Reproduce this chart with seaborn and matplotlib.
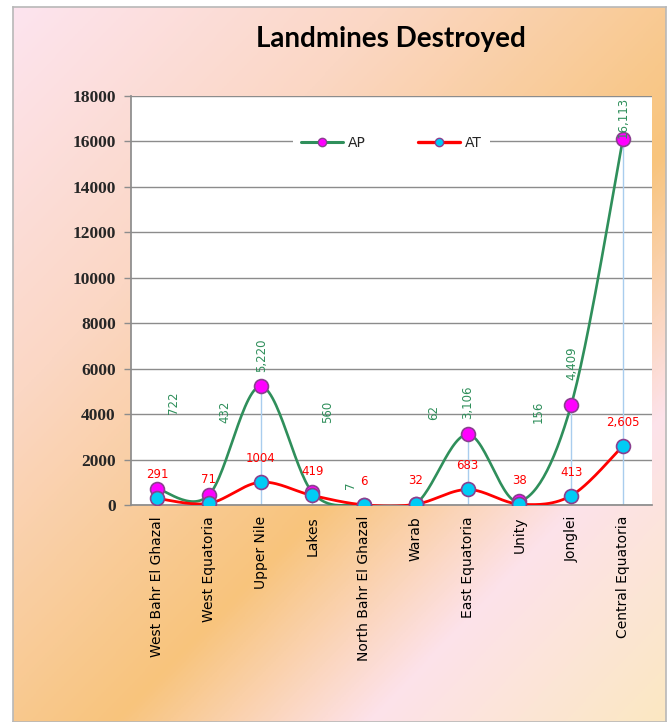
import numpy as np
import pandas as pd
import matplotlib
matplotlib.use("Agg")
import matplotlib.pyplot as plt
from matplotlib.colors import LinearSegmentedColormap
from matplotlib.lines import Line2D
import seaborn as sns

# ---------------- data ----------------
states = ["West Bahr El Ghazal", "West Equatoria", "Upper Nile", "Lakes",
          "North Bahr El Ghazal", "Warab", "East Equatoria", "Unity",
          "Jonglei", "Central Equatoria"]
ap_values = [722, 432, 5220, 560, 7, 62, 3106, 156, 4409, 16113]
at_values = [291, 71, 1004, 419, 6, 32, 683, 38, 413, 2605]
ap_labels = ["722", "432", "5,220", "560", "7", "62", "3,106", "156", "4,409", "16,113"]
at_labels = ["291", "71", "1004", "419", "6", "32", "683", "38", "413", "2,605"]
y_ticks = [0, 2000, 4000, 6000, 8000, 10000, 12000, 14000, 16000, 18000]

# label placement (category offset, y in data units) for the rotated AP labels
ap_label_pos = [(0.31, 4490), (1.31, 4090), (2.02, 6600), (3.29, 4090), (3.74, 880),
                (5.35, 4090), (6.0, 4530), (7.37, 4090), (8.02, 6250), (9.0, 17050)]

sns.set_theme(style="white")
plt.rcParams["font.family"] = ["DejaVu Sans"]

W, H = 668, 722
fig = plt.figure(figsize=(W / 100, H / 100), dpi=100)
fig.patch.set_facecolor("white")

# gradient background panel
x0p, x1p, y0p = 13, 666, 6.5
bg = fig.add_axes([x0p / W, 0, (x1p - x0p) / W, 1 - y0p / H], zorder=0)
nx, ny = 400, 430
gx, gy = np.meshgrid(np.linspace(0, x1p - x0p, nx), np.linspace(0, H - y0p, ny))
t = (0.72 * gx + 0.69 * gy)
t = t / t.max()
cmap = LinearSegmentedColormap.from_list(
    "bg", [(0.0, "#fde4ef"), (0.28, "#fbd7c4"), (0.59, "#f8c47c"),
           (0.78, "#fde2ea"), (1.0, "#fbe8c2")])
bg.imshow(cmap(t), aspect="auto", extent=[0, 1, 0, 1], origin="upper")
bg.set_xticks([]); bg.set_yticks([])
for s in bg.spines.values():
    s.set_color("#b8b8b8"); s.set_linewidth(1.2)

# main plot
ax = fig.add_axes([131 / W, 1 - 505 / H, (652 - 131) / W, (505 - 96) / H], zorder=1)
ax.set_facecolor("white")

x = np.arange(len(states))

def smooth(xv, yv, n=30):
    xv = np.asarray(xv, float); yv = np.asarray(yv, float)
    P = np.column_stack([xv, yv])
    out = []
    for i in range(len(P) - 1):
        p0 = P[i - 1] if i > 0 else P[i]
        p1, p2 = P[i], P[i + 1]
        p3 = P[i + 2] if i + 2 < len(P) else P[i + 1]
        c1 = p1 + (p2 - p0) / 6.0
        c2 = p2 - (p3 - p1) / 6.0
        s = np.linspace(0, 1, n, endpoint=(i == len(P) - 2))[:, None]
        seg = ((1 - s) ** 3) * p1 + 3 * ((1 - s) ** 2) * s * c1 + 3 * (1 - s) * s ** 2 * c2 + s ** 3 * p2
        out.append(seg)
    out = np.vstack(out)
    return out[:, 0], out[:, 1]

green = "#2f8f5b"
red = "#ff0000"
edge = "#8a3f8f"

# grid
ax.set_ylim(0, 18000)
ax.set_xlim(-0.502, 9.56)
ax.set_yticks(y_ticks)
ax.yaxis.grid(True, color="#8c8c8c", linewidth=1.0)
ax.set_axisbelow(True)

# drop lines
ax.vlines(x, 0, ap_values, color="#a9cdee", linewidth=1.0, zorder=1.5)

sx, sy = smooth(x, ap_values)
sns.lineplot(x=sx, y=sy, ax=ax, color=green, linewidth=1.9, sort=False, zorder=3)
sx2, sy2 = smooth(x, at_values)
sns.lineplot(x=sx2, y=sy2, ax=ax, color=red, linewidth=2.0, sort=False, zorder=4)

sns.scatterplot(x=x, y=ap_values, ax=ax, s=100, color="#ff00ff", edgecolor=edge,
                linewidth=1.2, zorder=5)
sns.scatterplot(x=x, y=at_values, ax=ax, s=100, color="#00ccf5", edgecolor=edge,
                linewidth=1.2, zorder=6)

# labels
for (dx, yy), lab in zip(ap_label_pos, ap_labels):
    ax.text(dx, yy, lab, rotation=90, ha="center", va="center", color=green,
            fontsize=8.5, zorder=7, clip_on=False)
for xi, yv, lab in zip(x, at_values, at_labels):
    ax.annotate(lab, (xi, yv), xytext=(0, 17), textcoords="offset points",
                ha="center", va="center", color=red, fontsize=8.5, zorder=7)

# axes styling
for side in ["top", "right"]:
    ax.spines[side].set_visible(False)
ax.spines["left"].set_color("#8c8c8c")
ax.spines["bottom"].set_color("#8c8c8c")
ax.tick_params(axis="y", which="major", length=5, width=1, color="#8c8c8c", left=True, pad=6)
ax.tick_params(axis="x", length=0, pad=8)
ax.set_xticks(x)
ax.set_xticklabels(states, rotation=90, fontsize=10, color="black")
for lab in ax.get_yticklabels():
    lab.set_family("Liberation Serif"); lab.set_fontweight("bold"); lab.set_fontsize(12.5)
ax.set_xlabel(""); ax.set_ylabel("")

# legend
handles = [Line2D([0], [0], color=green, lw=2.2, marker="o", markersize=6,
                  markerfacecolor="#ff00ff", markeredgecolor=edge),
           Line2D([0], [0], color=red, lw=2.4, marker="o", markersize=6,
                  markerfacecolor="#00ccf5", markeredgecolor=edge)]
leg = ax.legend(handles, ["AP", "AT"], loc="center", bbox_to_anchor=(0.5, 0.885),
                ncol=2, frameon=True, fontsize=10, handlelength=3.0, columnspacing=3.8,
                handletextpad=0.35, borderpad=0.6)
leg.get_frame().set_facecolor("white")
leg.get_frame().set_edgecolor("none")
leg.get_frame().set_alpha(1)
leg.set_zorder(8)

# title
fig.text(391 / W, 1 - 39 / H, "Landmines Destroyed", ha="center", va="center",
         fontsize=20, fontweight="bold", family=["Lato", "DejaVu Sans"], color="black")

fig.savefig("out.png", dpi=100)
